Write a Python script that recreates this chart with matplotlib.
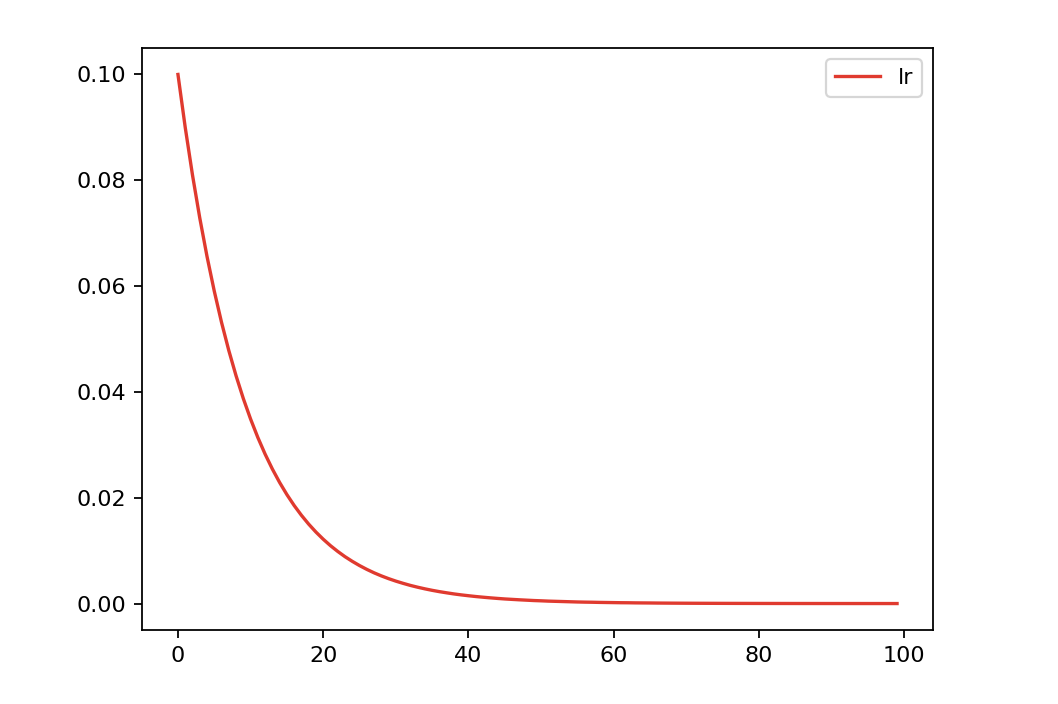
import matplotlib
matplotlib.use("Agg")
import matplotlib.pyplot as plt

epochs = list(range(100))
lr = [
    0.1, 0.09, 0.081, 0.0729, 0.06561, 0.05905, 0.05314, 0.04783, 0.04305, 0.03874,
    0.03487, 0.03138, 0.02824, 0.02542, 0.02288, 0.02059, 0.01853, 0.01668, 0.01501, 0.01351,
    0.01216, 0.01094, 0.00985, 0.00886, 0.00798, 0.00718, 0.00646, 0.00581, 0.00523, 0.00471,
    0.00424, 0.00382, 0.00343, 0.00309, 0.00278, 0.0025, 0.00225, 0.00203, 0.00182, 0.00164,
    0.00148, 0.00133, 0.0012, 0.00108, 0.00097, 0.00087, 0.00079, 0.00071, 0.00064, 0.00057,
    0.00052, 0.00046, 0.00042, 0.00038, 0.00034, 0.0003, 0.00027, 0.00025, 0.00022, 0.0002,
    0.00018, 0.00016, 0.00015, 0.00013, 0.00012, 0.00011, 0.0000955, 0.0000859, 0.0000773, 0.0000696,
    0.0000626, 0.0000564, 0.0000507, 0.0000457, 0.0000411, 0.000037, 0.0000333, 0.00003, 0.000027, 0.0000243,
    0.0000218, 0.0000197, 0.0000177, 0.0000159, 0.0000143, 0.0000129, 0.0000116, 0.0000104, 0.0000094, 0.0000085,
    0.0000076, 0.0000069, 0.0000062, 0.0000056, 0.000005, 0.0000045, 0.0000041, 0.0000036, 0.0000033, 0.000003,
]

fig = plt.figure(figsize=(1058 / 160, 704 / 160), dpi=160)
ax = fig.add_axes([142 / 1058, 1 - 630 / 704, (933 - 142) / 1058, (630 - 48) / 704])
ax.plot(epochs, lr, color="#e03a2f", label="lr")
ax.legend(loc="upper right")
fig.savefig("out.png", dpi=160)
